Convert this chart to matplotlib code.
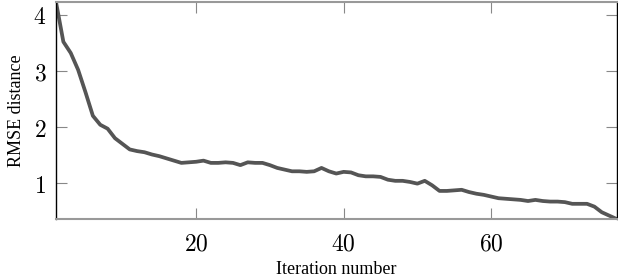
import matplotlib
matplotlib.use("Agg")
import matplotlib.pyplot as plt

# Dados
iteracoes = list(range(1, 78))
rmse = [4.23, 3.52, 3.32, 3.02, 2.62, 2.20, 2.04, 1.97, 1.80, 1.70,
        1.60, 1.57, 1.55, 1.51, 1.48, 1.44, 1.40, 1.36, 1.37, 1.38,
        1.40, 1.36, 1.36, 1.37, 1.36, 1.32, 1.37, 1.36, 1.36, 1.32,
        1.27, 1.24, 1.21, 1.21, 1.20, 1.21, 1.27, 1.21, 1.17, 1.20,
        1.19, 1.14, 1.12, 1.12, 1.11, 1.06, 1.04, 1.04, 1.02, 0.99,
        1.04, 0.96, 0.86, 0.86, 0.87, 0.88, 0.84, 0.81, 0.79, 0.76,
        0.73, 0.72, 0.71, 0.70, 0.68, 0.70, 0.68, 0.67, 0.67, 0.66,
        0.63, 0.63, 0.63, 0.58, 0.48, 0.42, 0.36]
xticks = [20, 40, 60]
yticks = [1, 2, 3, 4]

plt.rcParams["mathtext.fontset"] = "cm"

fig = plt.figure(figsize=(6.18, 2.8), dpi=100)
ax = fig.add_axes([0.0906, 0.218, 0.907, 0.775])

ax.plot(iteracoes, rmse, color="#555555", linewidth=2.7, solid_joinstyle="round")

ax.set_xlim(1, 77)
ax.set_ylim(0.36, 4.23)
ax.set_xticks(xticks)
ax.set_xticklabels([f"${t}$" for t in xticks])
ax.set_yticks(yticks)
ax.set_yticklabels([f"${t}$" for t in yticks])

ax.tick_params(axis="both", direction="in", length=8, width=0.8, color="#888888",
               labelsize=17, top=True, right=True)
ax.tick_params(axis="x", pad=9)
ax.tick_params(axis="y", pad=7)

for lado in ["left", "right"]:
    ax.spines[lado].set_color("black")
    ax.spines[lado].set_linewidth(1.0)
for lado in ["top", "bottom"]:
    ax.spines[lado].set_color("#999999")
    ax.spines[lado].set_linewidth(1.5)

ax.set_xlabel("Iteration number", family="Liberation Serif", fontsize=13, labelpad=4)
ax.set_ylabel("RMSE distance", family="Liberation Serif", fontsize=13, labelpad=6)

fig.savefig("out.png", dpi=100)
